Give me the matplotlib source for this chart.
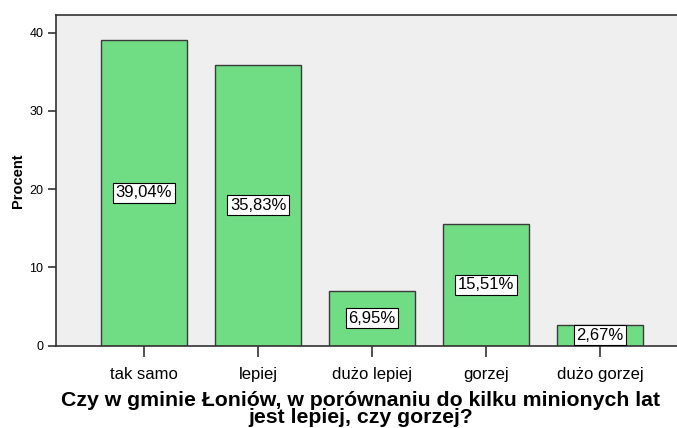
import matplotlib
matplotlib.use("Agg")
import matplotlib.pyplot as plt

plt.rcParams['font.family'] = ['Liberation Sans', 'DejaVu Sans']

categories = ["tak samo", "lepiej", "dużo lepiej", "gorzej", "dużo gorzej"]
values = [39.04, 35.83, 6.95, 15.51, 2.67]
labels = ["39,04%", "35,83%", "6,95%", "15,51%", "2,67%"]
yticks = [0, 10, 20, 30, 40]

fig = plt.figure(figsize=(6.77, 4.28), dpi=100)
ax = fig.add_axes([56/677, 1-345.7/428, (688-56)/677, (345.7-14.5)/428])
ax.set_facecolor('#efefef')

x = list(range(len(categories)))
ax.bar(x, values, width=0.754, color='#70dc84', edgecolor='#3a3a3a', linewidth=1.0, zorder=2)
for xi, v, lab in zip(x, values, labels):
    ax.text(xi, v/2, lab, ha='center', va='center', fontsize=12, color='black', zorder=5,
            bbox=dict(boxstyle='square,pad=0.15', facecolor='white', edgecolor='black', linewidth=0.8))

ax.set_xlim(-0.772, 4.772)
ax.set_ylim(0, 42.3)
ax.set_yticks(yticks)
ax.set_yticklabels([str(t) for t in yticks], fontsize=9)
ax.set_xticks(x)
ax.set_xticklabels(categories, fontsize=12)
ax.tick_params(axis='both', direction='out', color='#333333', width=1.2)
ax.tick_params(axis='x', length=8, pad=7)
ax.tick_params(axis='y', length=6, pad=3)
for s in ax.spines.values():
    s.set_color('#333333')
    s.set_linewidth(1.2)

fig.text(18/677, 1-181/428, "Procent", rotation=90, ha='center', va='center',
         fontsize=10.5, fontweight='bold')
fig.text(361/677, 1-409/428, "Czy w gminie Łoniów, w porównaniu do kilku minionych lat\njest lepiej, czy gorzej?",
         ha='center', va='center', fontsize=15.3, fontweight='bold', linespacing=0.85)

fig.savefig("out.png", dpi=100)
